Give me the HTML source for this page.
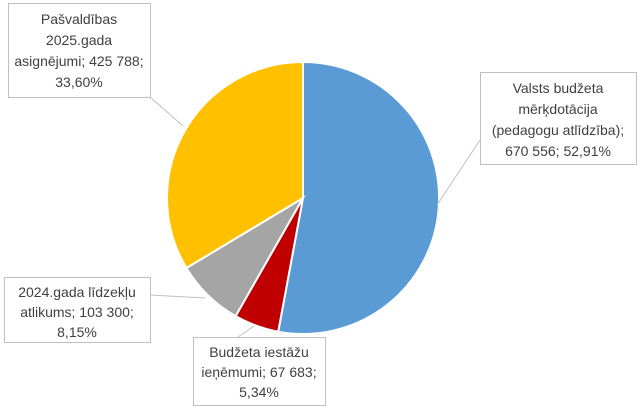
<!DOCTYPE html>
<html><head><meta charset="utf-8"><style>
body{margin:0;background:#fff;}
svg text{font-family:"Liberation Sans",sans-serif;font-size:14px;fill:#404040;}
</style></head><body>
<svg width="643" height="411" xmlns="http://www.w3.org/2000/svg">
<rect width="643" height="411" fill="#fff"/>
<g stroke="#fff" stroke-width="2">
<path d="M303,198 L303,62 A136,136 0 1,1 278.2,331.7 Z" fill="#5B9BD5"/>
<path d="M303,198 L278.2,331.7 A136,136 0 0,1 235.6,316.1 Z" fill="#C00000"/>
<path d="M303,198 L235.6,316.1 A136,136 0 0,1 186.4,268 Z" fill="#A5A5A5"/>
<path d="M303,198 L186.4,268 A136,136 0 0,1 303,62 Z" fill="#FFC000"/>
</g>
<g stroke="#bfbfbf" stroke-width="1" fill="none">
<line x1="150" y1="97" x2="183" y2="126"/>
<line x1="480" y1="140" x2="437" y2="205"/>
<line x1="150" y1="295" x2="205" y2="298"/>
<line x1="238" y1="337" x2="254" y2="326"/>
</g>
<g fill="#fff" stroke="#bfbfbf">
<rect x="8.5" y="3.5" width="142" height="94"/>
<rect x="480.5" y="72.5" width="156" height="92"/>
<rect x="4.5" y="277.5" width="146" height="65"/>
<rect x="193.5" y="337.5" width="132" height="68"/>
</g>
<g text-anchor="middle">
<text x="79" y="24">Pašvaldības</text>
<text x="79" y="45">2025.gada</text>
<text x="79" y="66">asignējumi; 425 788;</text>
<text x="79" y="87">33,60%</text>
<text x="558" y="93">Valsts budžeta</text>
<text x="558" y="114">mērķdotācija</text>
<text x="558" y="135">(pedagogu atlīdzība);</text>
<text x="558" y="156">670 556; 52,91%</text>
<text x="77" y="297">2024.gada līdzekļu</text>
<text x="77" y="317">atlikums; 103 300;</text>
<text x="77" y="337">8,15%</text>
<text x="259" y="357">Budžeta iestāžu</text>
<text x="259" y="377">ieņēmumi; 67 683;</text>
<text x="259" y="397">5,34%</text>
</g>
</svg>
</body></html>
